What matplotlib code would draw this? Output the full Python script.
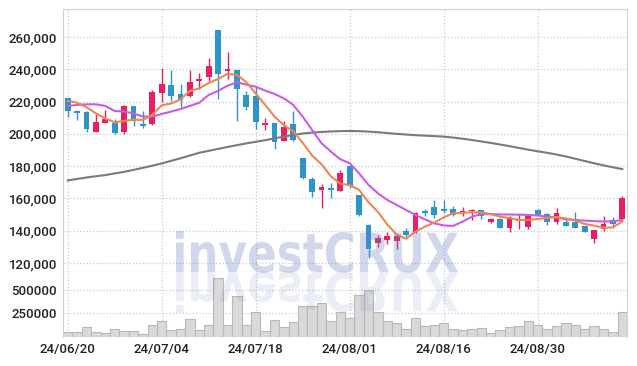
import numpy as np
import pandas as pd
import matplotlib
matplotlib.use('Agg')
import matplotlib.pyplot as plt
from matplotlib.textpath import TextPath
from matplotlib.patches import PathPatch
from matplotlib.font_manager import FontProperties
from matplotlib.transforms import Affine2D

# trading days (KRX, 8/15 holiday)
dates = pd.bdate_range('2024-06-20', '2024-09-12', freq='C', holidays=['2024-08-15'])

opens = [222000, 214000, 213500, 201000, 207000, 206500, 201000, 217000, 206000, 206000,
         225500, 230000, 224500, 223500, 233000, 235500, 264000, 239000, 239500, 224000,
         223500, 205500, 206500, 195500, 206000, 185000, 172000, 165500, 166500, 164500,
         180000, 162000, 143500, 132500, 134500, 133500, 140000, 139000, 152000, 155000,
         153500, 153500, 151000, 152500, 153000, 145700, 147500, 142000, 146000, 142500,
         153000, 150500, 145500, 145500, 145500, 143000, 135000, 141000, 146500, 147000]
highs = [222000, 215000, 214000, 212000, 214500, 209000, 218000, 217000, 214000, 227000,
         240500, 239500, 231000, 239500, 237500, 247000, 264500, 250500, 239500, 226500,
         229000, 210000, 206500, 208000, 214000, 185000, 173500, 169000, 169500, 177500,
         180000, 162000, 144500, 137500, 139500, 136500, 142000, 151500, 153500, 159000,
         159000, 155500, 155000, 153500, 153000, 148000, 148000, 149000, 150500, 150500,
         153500, 151000, 154000, 147500, 151500, 143000, 140500, 149000, 148500, 161500]
lows = [210500, 208500, 201000, 201000, 206500, 200000, 200000, 205000, 203500, 205500,
        219500, 220500, 216500, 223000, 228000, 233000, 221500, 234000, 208000, 215000,
        203000, 202500, 190500, 195500, 195500, 172000, 161000, 154000, 160000, 164500,
        166500, 149000, 123000, 130000, 132000, 129000, 135500, 138500, 149000, 148000,
        151000, 149000, 149000, 146500, 147500, 145000, 141500, 139000, 141000, 141000,
        149500, 143500, 144000, 143000, 142000, 139500, 132500, 140000, 142000, 147000]
closes = [214000, 213000, 203000, 207500, 209500, 200500, 217500, 208000, 205000, 226000,
          231000, 223500, 221000, 232000, 234000, 242000, 237000, 240000, 228000, 216500,
          207500, 206500, 195000, 204000, 196000, 172500, 164000, 167000, 165500, 176000,
          168000, 150000, 129000, 135500, 137000, 136500, 137500, 151000, 151000, 149500,
          152500, 150000, 152500, 153000, 149000, 147100, 142000, 148500, 147000, 149000,
          150000, 145500, 151000, 143000, 142000, 139500, 140500, 144500, 144000, 160500]
volumes = [53000, 53000, 103000, 50000, 39000, 82000, 64000, 64000, 28000, 130000,
           166000, 71000, 82000, 187000, 71000, 130000, 622000, 130000, 431000, 130000,
           262000, 60000, 177000, 103000, 156000, 325000, 325000, 357000, 166000, 262000,
           201000, 448000, 498000, 262000, 166000, 145000, 82000, 198000, 113000, 124000,
           145000, 82000, 71000, 82000, 92000, 39000, 71000, 103000, 113000, 166000,
           124000, 82000, 113000, 145000, 124000, 82000, 113000, 82000, 50000, 262000]

ma5 = [220400, 219300, 216500, 212700, 209500, 207200, 208000, 208800, 208600, 211800,
       217700, 218800, 221300, 226600, 228200, 231500, 234000, 237200, 236600, 232000,
       225000, 218000, 210700, 205400, 201600, 194500, 186600, 181200, 173700, 169200,
       168300, 165300, 157700, 151700, 143900, 137600, 135100, 139500, 142600, 145100,
       148300, 150800, 151100, 151500, 151400, 150300, 148700, 147900, 146700, 146700,
       147300, 148000, 148500, 147700, 146300, 144200, 143200, 141900, 142100, 145800]
ma20 = [217300, 217900, 218300, 218300, 217300, 214200, 213800, 212700, 210700, 210700,
        212300, 213800, 215400, 217300, 219300, 224100, 226600, 229800, 231900, 230500,
        229200, 226800, 224700, 222000, 217900, 210700, 202400, 194200, 189000, 184300,
        181800, 175600, 168400, 163200, 159100, 156000, 152900, 149800, 147100, 144600,
        143300, 143000, 145700, 148700, 150400, 150400, 150100, 150100, 150000, 149800,
        149500, 148700, 148300, 147100, 146700, 146300, 146000, 145800, 145800, 146700]
ma_long = [171200, 172100, 173000, 173800, 174500, 175500, 176500, 177700, 179000, 180300,
           181700, 183300, 184900, 186600, 188300, 189500, 190700, 191900, 193000, 194100,
           195100, 196100, 197200, 198300, 199400, 200200, 200800, 201200, 201500, 201700,
           201800, 201700, 201400, 201000, 200500, 200000, 199600, 199200, 198900, 198600,
           198300, 197700, 197000, 196200, 195300, 194400, 193400, 192400, 191300, 190200,
           189200, 188300, 187200, 186000, 184600, 183200, 181800, 180500, 179300, 178200]

price_ticks = [120000, 140000, 160000, 180000, 200000, 220000, 240000, 260000]
vol_ticks = [250000, 500000]
label_every = 10

UP = '#e91e63'
DOWN = '#2e95c8'
GRID = '#c5cadf'
SPINE = '#d0d0d0'
TICKFONT = dict(family=['Roboto', 'DejaVu Sans'], size=9.5, weight='medium', color='#222222')

W, H = 637, 366
fig = plt.figure(figsize=(W / 100, H / 100), dpi=100)
ax = fig.add_axes([63 / W, 94 / H, 564 / W, 263 / H])
axv = fig.add_axes([63 / W, 29 / H, 564 / W, 65 / H], sharex=ax)

x = np.arange(len(closes))
o = np.array(opens); c = np.array(closes)
cols = [UP if cc >= oo else DOWN for oo, cc in zip(o, c)]

# grid
for a in (ax, axv):
    a.set_axisbelow(True)
    a.grid(True, linestyle=':', color=GRID, linewidth=0.9)
    a.tick_params(length=0, pad=4.3)
    for s in a.spines.values():
        s.set_color(SPINE)
ax.spines['bottom'].set_color('#c8c8c8')
axv.spines['top'].set_visible(False)
axv.spines['bottom'].set_visible(False)

# candles
ax.vlines(x, lows, highs, colors=cols, linewidth=1, zorder=2)
body_h = np.maximum(np.abs(c - o), 600)
ax.bar(x, body_h, bottom=np.minimum(o, c), width=0.62, color=cols, zorder=3)

# moving averages
ax.plot(x, ma_long, color='#7a7a7a', linewidth=1.5, zorder=4)
ax.plot(x, ma20, color='#c95be6', linewidth=1.5, zorder=4)
ax.plot(x, ma5, color='#ee8650', linewidth=1.5, zorder=4)

ax.set_ylim(114500, 277300)
ax.set_yticks(price_ticks)
ax.set_yticklabels([f'{t:,}' for t in price_ticks], **TICKFONT)
ax.tick_params(axis='x', labelbottom=False)

# volume
axv.bar(x, volumes, width=1.0, color='#d9d9d9', edgecolor='#b8b8b8', linewidth=0.8, zorder=2)
axv.set_ylim(0, 688000)
axv.set_yticks(vol_ticks)
axv.set_yticklabels([str(t) for t in vol_ticks], **TICKFONT)

ticks = list(range(0, len(dates), label_every))
axv.set_xticks(ticks)
axv.set_xticklabels([dates[i].strftime('%y/%m/%d') for i in ticks], **TICKFONT)
axv.set_xlim(-0.5, len(closes) - 0.5)

# watermark with reflection
fp = FontProperties(family='DejaVu Sans', weight='bold')
tp = TextPath((0, 0), 'investCRUX', size=100, prop=fp)
ext = tp.get_extents()
cap = TextPath((0, 0), 'C', size=100, prop=fp).get_extents().y1
sx = (458 - 176) / ext.width
sy = 40 / cap
to_fig = Affine2D().scale(1 / W, 1 / H) + fig.transFigure
base_y = H - 272
t_main = Affine2D().translate(-ext.x0, 0).scale(sx, sy).translate(176, base_y) + to_fig
t_refl = Affine2D().translate(-ext.x0, 0).scale(sx, -sy).translate(176, base_y) + to_fig
fig.add_artist(PathPatch(tp, transform=t_main, facecolor='#6c80c0', edgecolor='none',
                         alpha=0.3, zorder=10))
fig.add_artist(PathPatch(tp, transform=t_refl, facecolor='#6c80c0', edgecolor='none',
                         alpha=0.13, zorder=10))

fig.savefig('out.png', dpi=100)
